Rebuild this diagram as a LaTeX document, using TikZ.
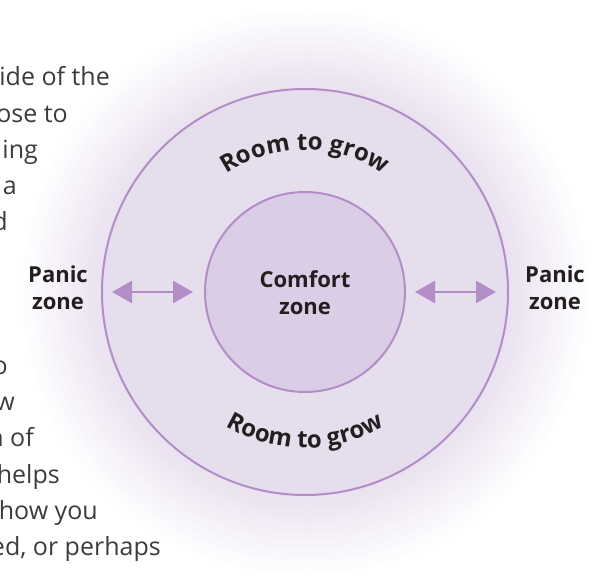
\documentclass[tikz,border=0pt]{standalone}
\usepackage{fontspec}
\setmainfont{Open Sans}
\usetikzlibrary{arrows.meta,decorations.text}
\definecolor{ringline}{HTML}{B28DC6}
\definecolor{ringfill}{HTML}{E6DEED}
\definecolor{innerfill}{HTML}{DACDE5}
\definecolor{glowA}{HTML}{EAE2F0}
\definecolor{textdark}{HTML}{231F20}
\definecolor{bodygray}{HTML}{3C3C3C}
\newcommand{\labfont}{\bfseries\fontsize{22}{27}\selectfont}
\newcommand{\arcfont}{\bfseries\fontsize{24}{28}\selectfont}
\newcommand{\bodyfont}{\fontsize{25}{30}\selectfont\color{bodygray}}
\begin{document}
\begin{tikzpicture}[x=1pt,y=-1pt,
  zonecircle/.style={circle, draw=ringline, line width=2pt, inner sep=0pt, outer sep=0pt},
  zonelabel/.style={font=\labfont, text=textdark, align=center, inner sep=0pt},
  bodyline/.style={font=\bodyfont, anchor=base east, inner sep=0pt},
  twoway/.style={draw=ringline, line width=2.6pt,
    {Triangle[length=20pt,width=22pt]}-{Triangle[length=20pt,width=22pt]},
    shorten <=10pt, shorten >=12pt},
  arctext/.style={decorate, decoration={text along path, text align=center,
    text format delimiters={|}{|}, text={|\arcfont\color{textdark}|Room to grow}}}
]
\useasboundingbox (0,0) rectangle (598,580);
\clip (0,0) rectangle (598,580);
\coordinate (c) at (305,292);

% soft outer glow (concentric rings fading to white)
\foreach \i in {0,...,40}{
  \pgfmathsetmacro{\rr}{285-2*\i}
  \pgfmathsetmacro{\pp}{100*\i/40}
  \fill[glowA!\pp!white] (c) circle[radius=\rr];
}

% paragraph fragments
\node[bodyline] (p1) at (110,86) {ide of the};
\node[bodyline] (p2) at (68,123) {ose to};
\node[bodyline] (p3) at (38,159) {ing};
\node[bodyline] (p4) at (17,195) {a};
\node[bodyline] (p5) at (8,231) {d};
\node[bodyline] (p6) at (8,375) {o};
\node[bodyline] (p7) at (15,411) {w};
\node[bodyline] (p8) at (34,447) {n of};
\node[bodyline] (p9) at (60,483) {helps};
\node[bodyline] (p10) at (98,519) {how you};
\node[bodyline] (p11) at (161,555) {ed, or perhaps};

% zones
\node[zonecircle, fill=ringfill, minimum size=406pt] (outer) at (c) {};
\node[zonecircle, fill=innerfill, minimum size=200pt] (inner) at (c) {};

\node[zonelabel] (comfort) at (305,293) {Comfort\\zone};
\node[zonelabel] (panicL) at (58,288) {Panic\\zone};
\node[zonelabel] (panicR) at (555,288) {Panic\\zone};

% arrows
\draw[twoway] (outer.west) -- (inner.west);
\draw[twoway] (inner.east) -- (outer.east);

% curved labels
\path[arctext] (c) ++(-150:142) arc[start angle=-150, end angle=-30, radius=142];
\path[arctext] (c) ++(150:156) arc[start angle=150, end angle=30, radius=156];
\end{tikzpicture}
\end{document}
